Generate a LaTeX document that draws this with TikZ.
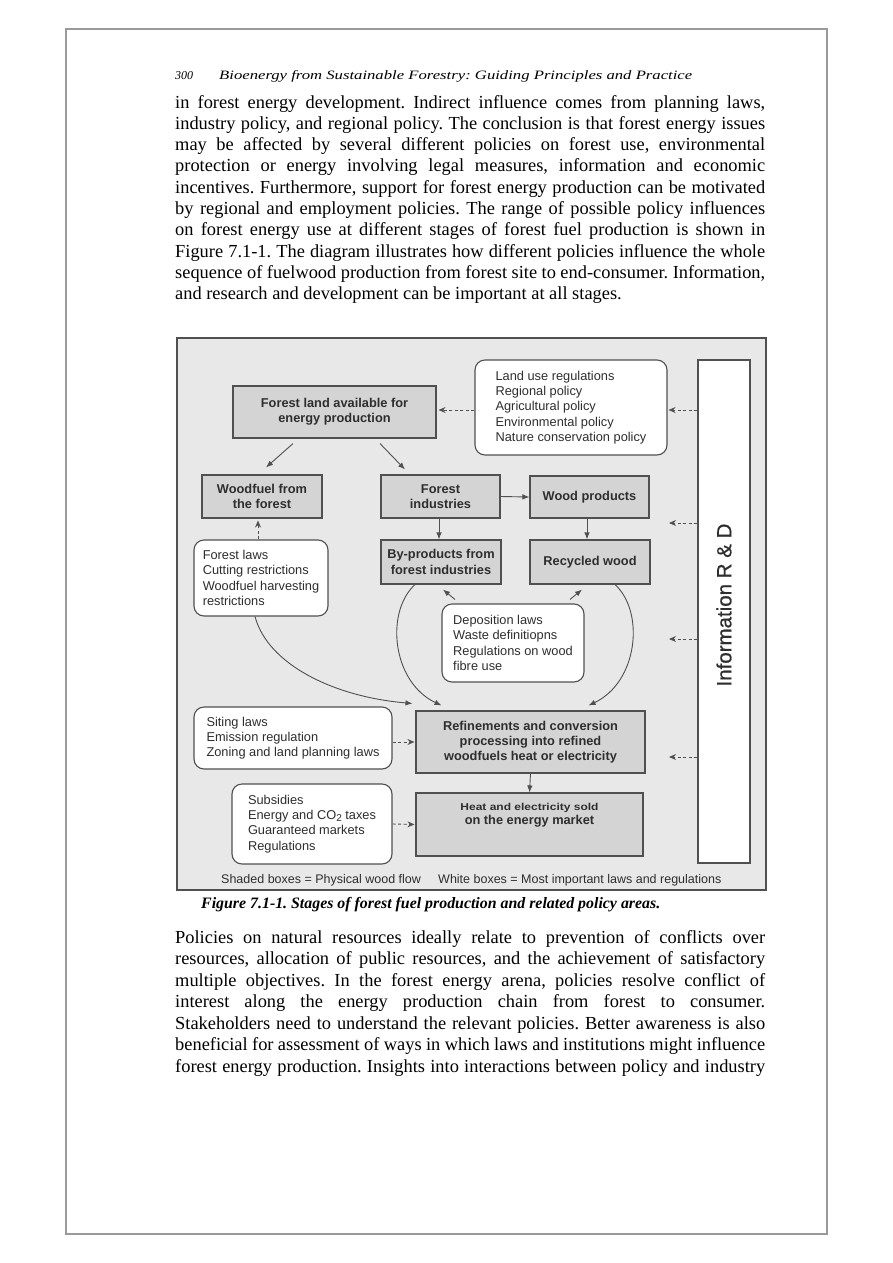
\documentclass[tikz,border=0pt]{standalone}
\usepackage{fontspec}
\setmainfont{Liberation Serif}
\setsansfont{Liberation Sans}
\newfontfamily\infofont{Liberation Sans}[BoldFont=Liberation Sans, BoldFeatures={FakeBold=0.7}]
\usetikzlibrary{arrows.meta,calc}
\definecolor{figbg}{HTML}{E8E8E8}
\definecolor{shade}{HTML}{D4D4D4}
\definecolor{bord}{HTML}{505050}
\definecolor{dtext}{HTML}{2E2E2E}
\definecolor{pageframe}{HTML}{9A9A9A}
\newcommand{\jline}[1]{\makebox[590pt][s]{#1}}
\frenchspacing
\begin{document}
\begin{tikzpicture}[x=1pt,y=-1pt,
  flowbox/.style={draw=bord, fill=shade, line width=1.1pt, font=\sffamily\bfseries\fontsize{12.8}{15.3}\selectfont, text=dtext, align=center, inner sep=0pt},
  lawbox/.style={draw=bord, fill=white, line width=1.1pt, rounded corners=10pt, font=\sffamily\fontsize{12.8}{15.3}\selectfont, text=dtext, align=left, inner sep=0pt},
  arr/.style={draw=bord, line width=0.9pt, -{Latex[length=7pt,width=5.5pt]}},
  darr/.style={draw=bord, line width=0.9pt, dash pattern=on 3pt off 2.5pt, -{Stealth[length=7pt,width=6pt]}},
  bodyline/.style={anchor=base west, inner sep=0pt, font=\fontsize{18.4}{21}\selectfont},
  legend/.style={anchor=base west, inner sep=0pt, font=\sffamily\fontsize{12.5}{12.5}\selectfont, text=dtext},
]
\useasboundingbox (0,0) rectangle (893,1263);
\fill[white] (0,0) rectangle (893,1263);
\draw[pageframe, line width=2pt] (66,29) rectangle (827,1234);

% running head
\node[anchor=base west, inner sep=0pt] (pgnum) at (175,80) {\fontsize{12}{12}\selectfont\itshape 300};
\node[anchor=base west, inner sep=0pt] (runhead) at (219,80) {\resizebox{473pt}{9pt}{\itshape Bioenergy from Sustainable Forestry: Guiding Principles and Practice}};

% first paragraph
\node[bodyline] (p1) at (175,108.0) {\jline{in forest energy development. Indirect influence comes from planning laws,}};
\node[bodyline] (p2) at (175,129.3) {\jline{industry policy, and regional policy. The conclusion is that forest energy issues}};
\node[bodyline] (p3) at (175,150.6) {\jline{may be affected by several different policies on forest use, environmental}};
\node[bodyline] (p4) at (175,171.9) {\jline{protection or energy involving legal measures, information and economic}};
\node[bodyline] (p5) at (175,193.2) {\jline{incentives. Furthermore, support for forest energy production can be motivated}};
\node[bodyline] (p6) at (175,214.5) {\jline{by regional and employment policies. The range of possible policy influences}};
\node[bodyline] (p7) at (175,235.8) {\jline{on forest energy use at different stages of forest fuel production is shown in}};
\node[bodyline] (p8) at (175,257.1) {\jline{Figure 7.1-1. The diagram illustrates how different policies influence the whole}};
\node[bodyline] (p9) at (175,278.4) {\jline{sequence of fuelwood production from forest site to end-consumer. Information,}};
\node[bodyline] (p10) at (175,299.7) {and research and development can be important at all stages.};

% figure frame
\node[draw=bord, fill=figbg, line width=1.3pt, minimum width=589pt, minimum height=552pt, inner sep=0pt] (fig) at (471.5,614) {};
\node[draw=bord, fill=white, line width=1.1pt, minimum width=52pt, minimum height=503pt, inner sep=0pt] (info) at (724,611.5) {};
\node[rotate=90, inner sep=0pt, font=\infofont\bfseries\fontsize{20.5}{20.5}\selectfont, text=dtext] (infotext) at (724,605) {Information R \& D};

% flow boxes
\node[flowbox, minimum width=203pt, minimum height=52pt] (fl) at (334.5,412) {Forest land available for\\energy production};
\node[flowbox, minimum width=120pt, minimum height=43pt] (wf) at (262,496.5) {Woodfuel from\\the forest};
\node[flowbox, minimum width=119pt, minimum height=43pt] (fi) at (440.5,496.5) {Forest\\industries};
\node[flowbox, minimum width=119pt, minimum height=42pt] (wp) at (589.5,497) {Wood products};
\node[flowbox, minimum width=120pt, minimum height=44pt] (bp) at (441,562) {By-products from\\forest industries};
\node[flowbox, minimum width=120pt, minimum height=44pt] (rw) at (590,562) {Recycled wood};
\node[flowbox, minimum width=229pt, minimum height=62pt] (ref) at (530.5,742) {Refinements and conversion\\processing into refined\\woodfuels heat or electricity};
\node[flowbox, minimum width=227pt, minimum height=63pt] (heat) at (529.5,824.5) {};
\node[inner sep=0pt, align=center, text=dtext, font=\sffamily\bfseries] (heattext) at (529.5,815) {\scalebox{1.2}[1]{\fontsize{10}{10}\selectfont Heat and electricity sold}\\[2pt]{\fontsize{12.8}{12.8}\selectfont on the energy market}};

% law boxes
\node[lawbox, minimum width=192pt, minimum height=95pt] (lu) at (571,407.5) {Land use regulations\\Regional policy\\Agricultural policy\\Environmental policy\\Nature conservation policy};
\node[lawbox, minimum width=134pt, minimum height=76pt] (fla) at (261,578) {Forest laws\\Cutting restrictions\\Woodfuel harvesting\\restrictions};
\node[lawbox, minimum width=142pt, minimum height=78pt] (dep) at (513,643) {Deposition laws\\Waste definitiopns\\Regulations on wood\\fibre use};
\node[lawbox, minimum width=198pt, minimum height=62pt] (sit) at (293,738) {Siting laws\\Emission regulation\\Zoning and land planning laws};
\node[lawbox, minimum width=160pt, minimum height=80pt] (sub) at (312,824) {Subsidies\\Energy and CO\raisebox{-2pt}{\fontsize{10}{10}\selectfont 2} taxes\\Guaranteed markets\\Regulations};

% free ends of the R&D arrows
\coordinate (c1) at (669,523);
\coordinate (c2) at (669,639);
\coordinate (c3) at (669,757);

% solid connectors
\draw[arr] ([xshift=-41.5pt,yshift=-5pt]fl.south) -- ([xshift=4pt,yshift=7pt]wf.north);
\draw[arr] ([xshift=45.5pt,yshift=-5pt]fl.south) -- ([xshift=-35.5pt,yshift=5pt]fi.north);
\draw[arr] (fi.east) -- (wp.west);
\draw[arr] ([xshift=-1.5pt]fi.south) -- ([xshift=-2pt]bp.north);
\draw[arr] ([xshift=-2.5pt]wp.south) -- ([xshift=-3pt]rw.north);
\draw[arr] ([xshift=-58pt,yshift=4pt]dep.north) -- ([xshift=2pt,yshift=-5pt]bp.south);
\draw[arr] ([xshift=57pt,yshift=4pt]dep.north) -- ([xshift=-8pt,yshift=-5pt]rw.south);
\draw[arr] ([xshift=-6pt]fla.south) .. controls (268,665) and (335,697) .. ([xshift=-3pt,yshift=7pt]ref.north west);
\draw[arr] ([xshift=-26pt]bp.south) .. controls (385,612) and (392,682) .. ([xshift=26pt,yshift=5pt]ref.north west);
\draw[arr] ([xshift=25pt]rw.south) .. controls (645,612) and (638,682) .. ([xshift=-57pt,yshift=5pt]ref.north east);
\draw[arr] (ref.south) -- (heat.north);

% dashed connectors
\draw[darr, shorten >=2pt] ([yshift=-2.5pt]lu.west) -- ([yshift=2pt]fl.east);
\draw[darr, shorten >=1pt] ([yshift=-2.5pt]info.west |- lu.east) -- ([yshift=-2.5pt]lu.east);
\draw[darr] (info.west |- c1) -- (c1);
\draw[darr] (info.west |- c2) -- (c2);
\draw[darr] (info.west |- c3) -- (c3);
\draw[darr, shorten >=2pt] ([xshift=-3pt]fla.north) -- ([xshift=-4pt]wf.south);
\draw[darr, shorten >=1pt] ([yshift=-4pt]sit.east) -- (ref.west);
\draw[darr, shorten >=1pt] (sub.east) -- (heat.west);

% legend
\node[legend] (leg1) at (221,883.5) {Shaded boxes = Physical wood flow};
\node[legend] (leg2) at (438,883.5) {White boxes = Most important laws and regulations};

% caption
\node[anchor=base west, inner sep=0pt] (cap) at (201,908) {\resizebox{459pt}{!}{\fontsize{15}{15}\selectfont\bfseries\itshape Figure 7.1-1. Stages of forest fuel production and related policy areas.}};

% second paragraph
\node[bodyline] (q1) at (175,943.0) {\jline{Policies on natural resources ideally relate to prevention of conflicts over}};
\node[bodyline] (q2) at (175,964.5) {\jline{resources, allocation of public resources, and the achievement of satisfactory}};
\node[bodyline] (q3) at (175,986.0) {\jline{multiple objectives. In the forest energy arena, policies resolve conflict of}};
\node[bodyline] (q4) at (175,1007.5) {\jline{interest along the energy production chain from forest to consumer.}};
\node[bodyline] (q5) at (175,1029.0) {\jline{Stakeholders need to understand the relevant policies. Better awareness is also}};
\node[bodyline] (q6) at (175,1050.5) {\jline{beneficial for assessment of ways in which laws and institutions might influence}};
\node[bodyline] (q7) at (175,1072.0) {\jline{forest energy production. Insights into interactions between policy and industry}};
\end{tikzpicture}
\end{document}
